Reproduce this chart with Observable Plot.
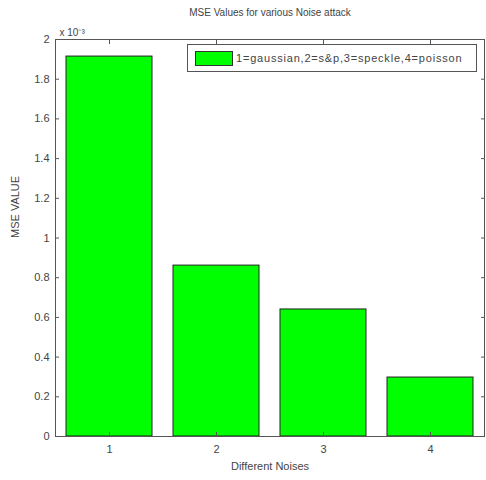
<!DOCTYPE html>
<html><head><meta charset="utf-8">
<script src="https://cdn.jsdelivr.net/npm/d3@7"></script>
<script src="https://cdn.jsdelivr.net/npm/@observablehq/plot@0.6"></script>
<style>
body{margin:0;background:#fff;}
#wrap{position:relative;width:486px;height:480px;font-family:"Liberation Sans",Arial,sans-serif;}
#legend{position:absolute;left:187px;top:44px;width:290px;height:28px;border:1px solid #555;background:#fff;box-sizing:border-box;display:flex;align-items:center;font-size:11px;letter-spacing:0.8px;color:#444;}
#legend .sw{width:38px;height:15px;background:#00ff00;border:1px solid #333;margin-left:7px;margin-right:3px;box-sizing:border-box;}
</style>
</head><body>
<div id="wrap"></div>
<script>
const categories = [1, 2, 3, 4];
const mseValues = [1.914, 0.861, 0.640, 0.297]; // x 10^-3
const yTicks = [0, 0.2, 0.4, 0.6, 0.8, 1, 1.2, 1.4, 1.6, 1.8, 2];
const legendLabel = "1=gaussian,2=s&p,3=speckle,4=poisson";
const title = "MSE Values for various Noise attack";
const xLabel = "Different Noises";
const yLabel = "MSE VALUE";
const exponentLabel = "x 10⁻³";

const data = categories.map((c, i) => ({noise: c, mse: mseValues[i]}));
const txt = "#444";

const chart = Plot.plot({
  width: 486,
  height: 480,
  marginLeft: 55,
  marginRight: 2,
  marginTop: 39,
  marginBottom: 44,
  style: {fontFamily: "Liberation Sans, Arial, sans-serif", fontSize: "11px", color: txt, background: "#fff"},
  x: {type: "band", domain: categories, paddingInner: 0.2, paddingOuter: 0.1, label: null},
  y: {domain: [0, 2], label: null},
  marks: [
    Plot.barY(data, {x: "noise", y: "mse", fill: "#00ff00", stroke: "#222", strokeWidth: 1}),
    Plot.frame({stroke: "#555"}),
    Plot.axisY({ticks: yTicks, tickSize: -4, tickPadding: 10, tickFormat: d => String(d), stroke: "#555", fill: txt}),
    Plot.axisY({anchor: "right", ticks: yTicks, tickSize: -4, tickFormat: () => "", stroke: "#555"}),
    Plot.axisX({tickSize: -4, tickPadding: 13, stroke: "#555", fill: txt}),
    Plot.axisX({anchor: "top", tickSize: -4, tickFormat: () => "", stroke: "#555"}),
    Plot.text([title], {frameAnchor: "top", dy: -31, fill: txt, fontSize: 10}),
    Plot.text([exponentLabel], {frameAnchor: "top-left", dx: 4, dy: -11, textAnchor: "start", fill: txt, fontSize: 10}),
    Plot.text([xLabel], {frameAnchor: "bottom", dy: 33, fill: txt, fontSize: 11}),
    Plot.text([yLabel], {frameAnchor: "left", dx: -40, rotate: -90, fill: txt, fontSize: 11})
  ]
});
const wrap = document.getElementById("wrap");
wrap.appendChild(chart);
const lg = document.createElement("div");
lg.id = "legend";
lg.innerHTML = '<div class="sw"></div><span></span>';
lg.querySelector("span").textContent = legendLabel;
wrap.appendChild(lg);
</script>
</body></html>
